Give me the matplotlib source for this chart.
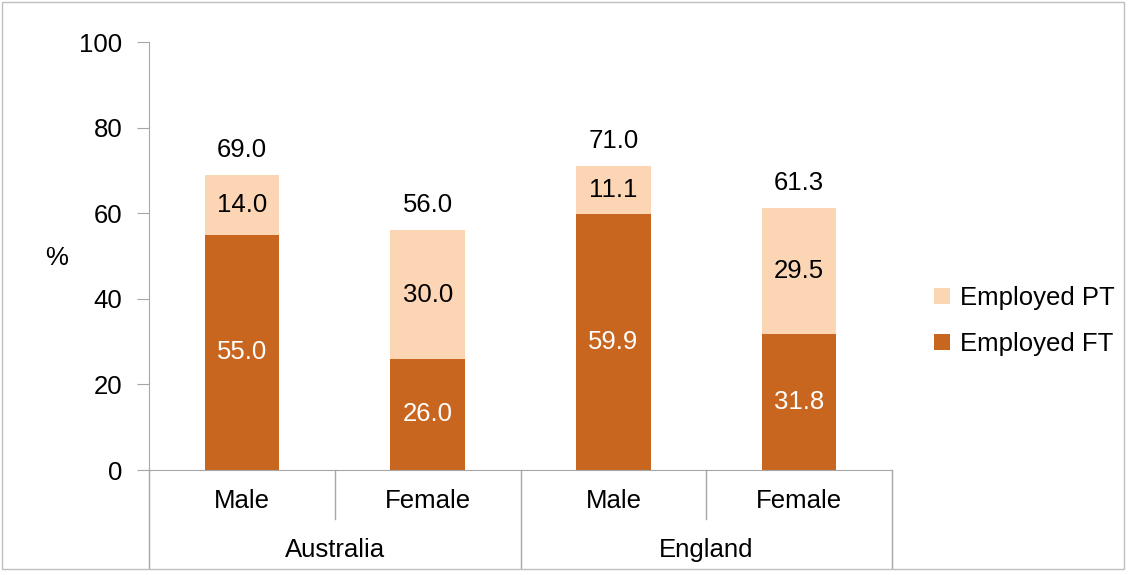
import matplotlib
matplotlib.use("Agg")
import matplotlib.pyplot as plt
from matplotlib.patches import Rectangle
from matplotlib.lines import Line2D

plt.rcParams["font.family"] = ["Liberation Sans", "DejaVu Sans"]

groups = ["Australia", "England"]
sexes = ["Male", "Female", "Male", "Female"]
ft = [55.0, 26.0, 59.9, 31.8]
pt = [14.0, 30.0, 11.1, 29.5]
totals = [69.0, 56.0, 71.0, 61.3]

C_FT = "#C8661F"
C_PT = "#FCD5B5"
GRID = "#A6A6A6"
FS = 18.5

fig = plt.figure(figsize=(11.3, 5.75), dpi=100)
ax = fig.add_axes([149 / 1130, 105 / 575, 743 / 1130, 428 / 575])

x = list(range(len(sexes)))
ax.bar(x, ft, 0.4, color=C_FT, label="Employed FT")
ax.bar(x, pt, 0.4, bottom=ft, color=C_PT, label="Employed PT")

for i in x:
    ax.text(i, ft[i] / 2, f"{ft[i]:.1f}", ha="center", va="center", color="white", fontsize=FS)
    ax.text(i, ft[i] + pt[i] / 2, f"{pt[i]:.1f}", ha="center", va="center", color="black", fontsize=FS)
    ax.annotate(f"{totals[i]:.1f}", (i, totals[i]), xytext=(0, 18), textcoords="offset points",
                ha="center", va="center", fontsize=FS)

ax.set_xlim(-0.5, 3.5)
ax.set_ylim(0, 100)
ax.set_yticks(range(0, 101, 20))
ax.tick_params(axis="y", direction="out", length=9, color=GRID, labelsize=FS, pad=10)
ax.set_xticks([])
for s in ["top", "right"]:
    ax.spines[s].set_visible(False)
for s in ["left", "bottom"]:
    ax.spines[s].set_color(GRID)

tr = ax.get_xaxis_transform()
for xs, y0 in [(-0.5, -0.229), (0.5, -0.115), (1.5, -0.229), (2.5, -0.115), (3.5, -0.229)]:
    ax.add_line(Line2D([xs, xs], [0, y0], transform=tr, color=GRID, lw=1, clip_on=False))
for i, s in enumerate(sexes):
    ax.text(i, -0.073, s, transform=tr, ha="center", va="center", fontsize=FS)
for g, name in enumerate(groups):
    ax.text(2 * g + 0.5, -0.188, name, transform=tr, ha="center", va="center", fontsize=FS)

fig.text(57 / 1130, 1 - 258 / 575, "%", ha="center", va="center", fontsize=FS)

h, l = ax.get_legend_handles_labels()
fig.legend(h[::-1], l[::-1], loc="center left", bbox_to_anchor=(911 / 1130, 1 - 321 / 575),
           frameon=False, fontsize=FS, handlelength=0.6, handleheight=0.6,
           handletextpad=0.4, labelspacing=0.85)

fig.add_artist(Rectangle((0.002, 0.01), 0.993, 0.987, transform=fig.transFigure,
                         fill=False, edgecolor="#BFBFBF", lw=1))

fig.savefig("out.png", dpi=100)
